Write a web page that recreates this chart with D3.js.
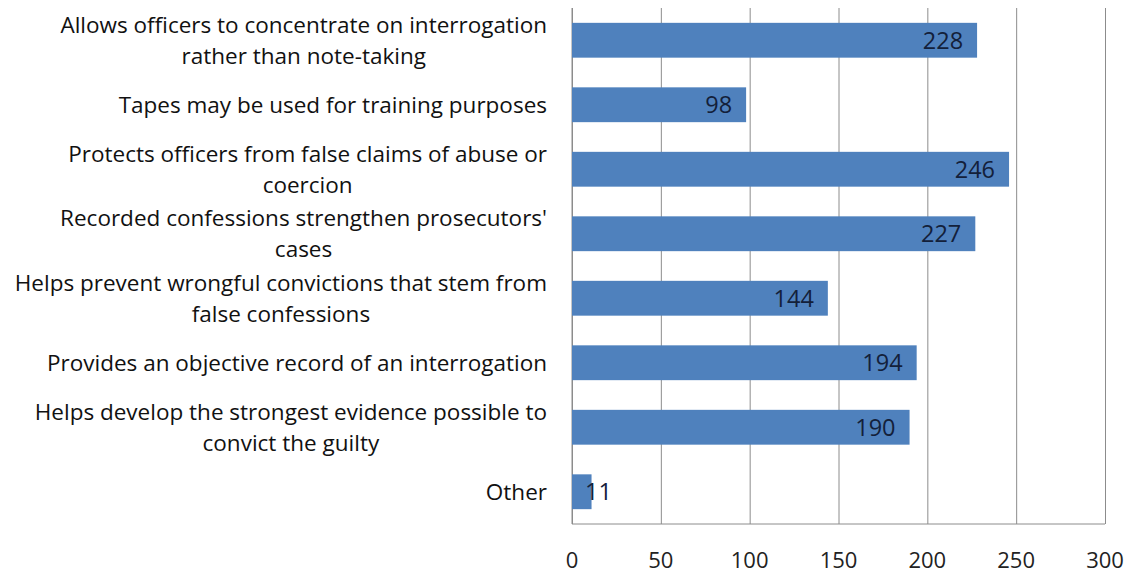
<!DOCTYPE html>
<html>
<head>
<meta charset="utf-8">
<script src="https://cdn.jsdelivr.net/npm/d3@7"></script>
<style>
    body { margin: 0; background: #fff; }
    svg { display: block; font-family: 'Open Sans', sans-serif; }
    .grid line { stroke: #8c8c8c; stroke-width: 1; }
    .grid path { display: none; }
    .catLabel { font-size: 22.5px; fill: #111; }
    .valLabel { font-size: 23.5px; fill: #13203a; }
    .xTick { font-size: 22px; fill: #222; }
</style>
</head>
<body>
<script>
'use strict';

// category labels, split into lines as they wrap in the picture
const categories = [
    ['Allows officers to concentrate on interrogation', 'rather than note-taking'],
    ['Tapes may be used for training purposes'],
    ['Protects officers from false claims of abuse or', 'coercion'],
    ['Recorded confessions strengthen prosecutors\'', 'cases'],
    ['Helps prevent wrongful convictions that stem from', 'false confessions'],
    ['Provides an objective record of an interrogation'],
    ['Helps develop the strongest evidence possible to', 'convict the guilty'],
    ['Other']
];
const counts = [228, 98, 246, 227, 144, 194, 190, 11];
const xTicks = [0, 50, 100, 150, 200, 250, 300];

(function () {

    function getPlotArea() {
        const plot = {
            svg: { width: 1129, height: 578 },
            padding: { top: 8, right: 24, bottom: 54, left: 572 }
        };
        plot.range = {
            x: plot.svg.width - plot.padding.left - plot.padding.right,
            y: plot.svg.height - plot.padding.top - plot.padding.bottom
        };
        return plot;
    }

    function makeScales(plot) {
        return {
            x: d3.scaleLinear().domain([0, 300]).range([0, plot.range.x]),
            y: d3.scaleBand().domain(d3.range(categories.length))
                .range([0, plot.range.y]).paddingInner(0.46).paddingOuter(0.23)
        };
    }

    function appendGrid(g, scales, plot) {
        g.append('g')
            .attr('class', 'grid')
            .attr('transform', 'translate(0,' + plot.range.y + ')')
            .call(d3.axisBottom(scales.x).tickValues(xTicks).tickSize(-plot.range.y).tickFormat(''));
        // left axis line and bottom line
        g.append('line')
            .attr('x1', 0).attr('x2', 0).attr('y1', 0).attr('y2', plot.range.y)
            .attr('stroke', '#8c8c8c');
        g.append('line')
            .attr('x1', 0).attr('x2', scales.x(300)).attr('y1', plot.range.y).attr('y2', plot.range.y)
            .attr('stroke', '#8c8c8c');
    }

    function appendXLabels(g, scales, plot) {
        g.append('g')
            .selectAll('text')
            .data(xTicks)
            .enter()
            .append('text')
            .attr('class', 'xTick')
            .attr('x', (d) => scales.x(d))
            .attr('y', plot.range.y + 44)
            .attr('text-anchor', 'middle')
            .text((d) => d);
    }

    function appendBars(g, scales) {
        g.append('g')
            .selectAll('rect')
            .data(counts)
            .enter()
            .append('rect')
            .attr('x', 0)
            .attr('y', (d, i) => scales.y(i))
            .attr('width', (d) => scales.x(d))
            .attr('height', scales.y.bandwidth())
            .attr('fill', '#4f81bd');
    }

    function appendValues(g, scales) {
        const texts = g.append('g')
            .selectAll('text')
            .data(counts)
            .enter()
            .append('text')
            .attr('class', 'valLabel')
            .attr('y', (d, i) => scales.y(i) + scales.y.bandwidth() / 2)
            .attr('dy', '0.36em')
            .attr('text-anchor', 'end')
            .text((d) => d);
        texts.each(function (d) {
            const w = this.getComputedTextLength();
            d3.select(this).attr('x', Math.max(scales.x(d) - 14, w + 13));
        });
    }

    function appendCategoryLabels(g, scales) {
        const lineH = 31;
        categories.forEach((lines, i) => {
            const cy = scales.y(i) + scales.y.bandwidth() / 2;
            const grp = g.append('g');
            const texts = lines.map((line, j) => grp.append('text')
                .attr('class', 'catLabel')
                .attr('y', cy + (j - (lines.length - 1) / 2) * lineH)
                .attr('dy', '0.35em')
                .attr('text-anchor', 'middle')
                .text(line));
            const maxW = d3.max(texts, (t) => t.node().getComputedTextLength());
            texts.forEach((t) => t.attr('x', -25 - maxW / 2));
        });
    }

    function draw() {
        const plot = getPlotArea();
        const svg = d3.select('body').append('svg')
            .attr('width', plot.svg.width)
            .attr('height', plot.svg.height);
        const g = svg.append('g')
            .attr('transform', 'translate(' + plot.padding.left + ',' + plot.padding.top + ')');
        const scales = makeScales(plot);
        appendGrid(g, scales, plot);
        appendBars(g, scales);
        appendValues(g, scales);
        appendXLabels(g, scales, plot);
        appendCategoryLabels(g, scales);
    }

    window.onload = draw;

})();
</script>
</body>
</html>
